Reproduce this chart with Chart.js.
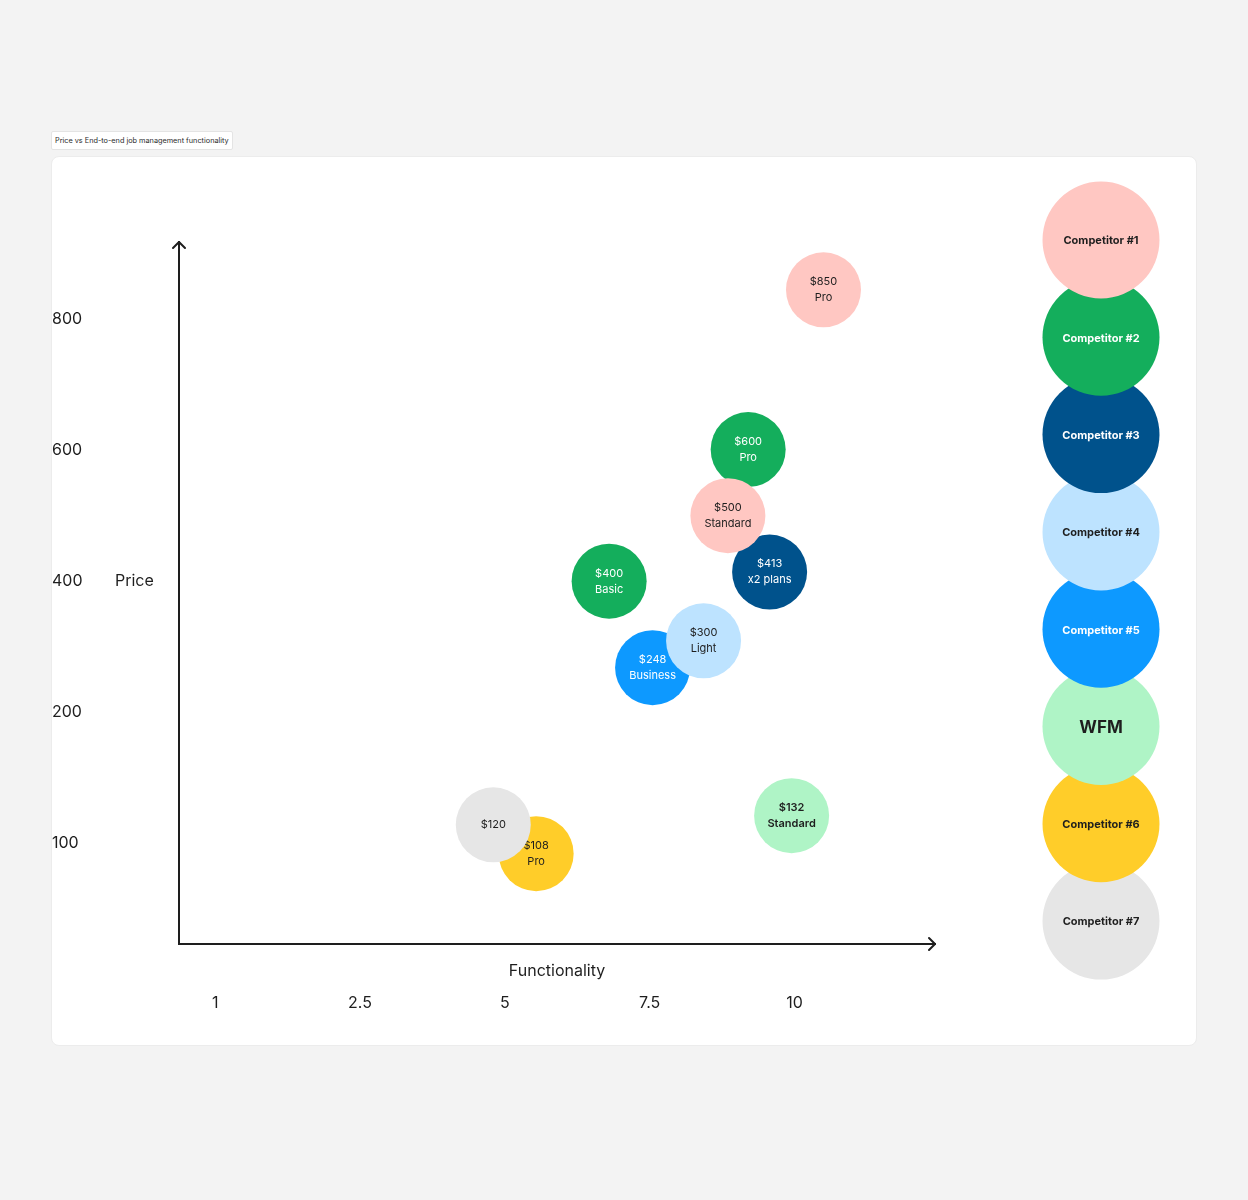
<!DOCTYPE html>
<html>
<head>
<meta charset="utf-8">
<title>Price vs End-to-end job management functionality</title>
<script src="https://cdn.jsdelivr.net/npm/chart.js@4.4.1/dist/chart.umd.min.js"></script>
<style>
  html, body { margin: 0; padding: 0; background: #f3f3f3; font-family: Inter, sans-serif; }
  body { width: 1248px; height: 1200px; position: relative; overflow: hidden; }
  .title {
    position: absolute; left: 51px; top: 131px; height: 19px; padding: 0 3px;
    background: #fff; border: 1px solid #e4e4e4; border-radius: 2px; box-sizing: border-box;
    font-size: 7.3px; line-height: 17px; color: #2a2a2a; white-space: nowrap;
  }
  .card {
    position: absolute; left: 51px; top: 156px; width: 1146px; height: 890px;
    background: #fff; border: 1px solid #ececec; border-radius: 8px; box-sizing: border-box;
  }
  .card canvas { position: absolute; left: 0; top: 0; }
</style>
</head>
<body>
<div class="title">Price vs End-to-end job management functionality</div>
<div class="card"><canvas id="chart"></canvas></div>
<script>
// competitors (legend order)
const competitors = ['Competitor #1', 'Competitor #2', 'Competitor #3', 'Competitor #4', 'Competitor #5', 'WFM', 'Competitor #6', 'Competitor #7'];
const competitorColors = ['#ffc7c2', '#14ae5c', '#00528c', '#bde3ff', '#0d99ff', '#aff4c6', '#ffcd29', '#e6e6e6'];
const competitorText = ['#1e1e1e', '#ffffff', '#ffffff', '#1e1e1e', '#ffffff', '#1e1e1e', '#1e1e1e', '#1e1e1e'];

// plans (one bubble each)
const planCompetitor = [0, 1, 0, 2, 1, 3, 4, 5, 7, 6];
const planFunctionality = [10.5, 9.2, 8.85, 9.57, 6.8, 8.43, 7.55, 9.95, 4.8, 5.54];
const planPrice = [845, 601, 500, 414, 400, 309, 268, 121, 114, 92];
const planPriceTags = ['$850', '$600', '$500', '$413', '$400', '$300', '$248', '$132', '$120', '$108'];
const planNames = ['Pro', 'Pro', 'Standard', 'x2 plans', 'Basic', 'Light', 'Business', 'Standard', '', 'Pro'];

// axis ticks (evenly spaced on the board)
const xTicks = [1, 2.5, 5, 7.5, 10];
const yTicks = [100, 200, 400, 600, 800];

const INK = '#1e1e1e';
const FONT = 'Inter, sans-serif';

// value -> position on evenly spaced tick slots
function toSlot(v, stops) {
  let i = 0;
  while (i < stops.length - 2 && v > stops[i + 1]) i++;
  return i + (v - stops[i]) / (stops[i + 1] - stops[i]);
}

const datasets = competitors.map((name, c) => {
  const data = [];
  planCompetitor.forEach((pc, i) => {
    if (pc !== c) return;
    data.push({
      x: toSlot(planFunctionality[i], xTicks),
      y: toSlot(planPrice[i], yTicks),
      r: 37.5,
      tag: planPriceTags[i],
      plan: planNames[i]
    });
  });
  return {
    label: name,
    data,
    backgroundColor: competitorColors[c],
    borderWidth: 0,
    clip: false,
    order: c === 7 ? -1 : c
  };
});

const bubbleText = {
  id: 'bubbleText',
  afterDatasetDraw(chart, args) {
    const c = args.index;
    const ctx = chart.ctx;
    const ds = chart.data.datasets[c];
    ctx.save();
    ctx.textAlign = 'center';
    ctx.textBaseline = 'middle';
    ctx.fillStyle = competitorText[c];
    ctx.font = (competitors[c] === 'WFM' ? '600 ' : '400 ') + '11px ' + FONT;
    args.meta.data.forEach((el, i) => {
      const d = ds.data[i];
      if (d.plan) {
        ctx.fillText(d.tag, el.x, el.y - 8);
        ctx.fillText(d.plan, el.x, el.y + 8);
      } else {
        ctx.fillText(d.tag, el.x, el.y);
      }
    });
    ctx.restore();
  }
};

const boardDecor = {
  id: 'boardDecor',
  afterDraw(chart) {
    const ctx = chart.ctx;
    const a = chart.chartArea;
    ctx.save();
    // arrow heads
    ctx.strokeStyle = INK;
    ctx.lineWidth = 2;
    ctx.lineCap = 'round';
    ctx.lineJoin = 'round';
    ctx.beginPath();
    ctx.moveTo(a.left - 6, a.top + 6);
    ctx.lineTo(a.left, a.top);
    ctx.lineTo(a.left + 6, a.top + 6);
    ctx.moveTo(a.right - 6, a.bottom - 6);
    ctx.lineTo(a.right, a.bottom);
    ctx.lineTo(a.right - 6, a.bottom + 6);
    ctx.stroke();
    // axis titles
    ctx.fillStyle = INK;
    ctx.font = '400 16px ' + FONT;
    ctx.textBaseline = 'middle';
    ctx.textAlign = 'left';
    ctx.fillText('Price', 63, chart.scales.y.getPixelForValue(2));
    ctx.textAlign = 'center';
    ctx.fillText('Functionality', (a.left + a.right) / 2, a.bottom + 27);
    // legend column, first entry on top
    const cx = 1049, r = 58.5, top = 83, step = 97.3;
    for (let c = competitors.length - 1; c >= 0; c--) {
      const cy = top + c * step;
      ctx.beginPath();
      ctx.arc(cx, cy, r, 0, Math.PI * 2);
      ctx.fillStyle = competitorColors[c];
      ctx.fill();
      ctx.fillStyle = competitorText[c];
      ctx.font = competitors[c] === 'WFM' ? '700 17px ' + FONT : '700 11px ' + FONT;
      ctx.fillText(competitors[c], cx, cy + 1);
    }
    ctx.restore();
  }
};

new Chart(document.getElementById('chart'), {
  type: 'bubble',
  data: { datasets },
  options: {
    responsive: true,
    maintainAspectRatio: false,
    animation: false,
    events: [],
    layout: { padding: { top: 85, right: 261, left: 0, bottom: 0 } },
    plugins: { legend: { display: false }, tooltip: { enabled: false } },
    scales: {
      x: {
        type: 'linear',
        min: -0.25,
        max: 4.97,
        grid: { display: false, drawTicks: false },
        border: { display: true, color: INK, width: 2 },
        afterBuildTicks: (s) => { s.ticks = xTicks.map((v, i) => ({ value: i })); },
        afterFit: (s) => { s.height = 101; },
        ticks: {
          padding: 50,
          color: INK,
          font: { family: FONT, size: 16 },
          maxRotation: 0,
          autoSkip: false,
          callback: (v) => String(xTicks[v])
        }
      },
      y: {
        type: 'linear',
        min: -0.77,
        max: 4.59,
        grid: { display: false, drawTicks: false },
        border: { display: true, color: INK, width: 2 },
        afterBuildTicks: (s) => { s.ticks = yTicks.map((v, i) => ({ value: i })); },
        afterFit: (s) => { s.width = 127; },
        ticks: {
          crossAlign: 'far',
          color: INK,
          font: { family: FONT, size: 16 },
          autoSkip: false,
          callback: (v) => String(yTicks[v])
        }
      }
    }
  },
  plugins: [bubbleText, boardDecor]
});
</script>
</body>
</html>
